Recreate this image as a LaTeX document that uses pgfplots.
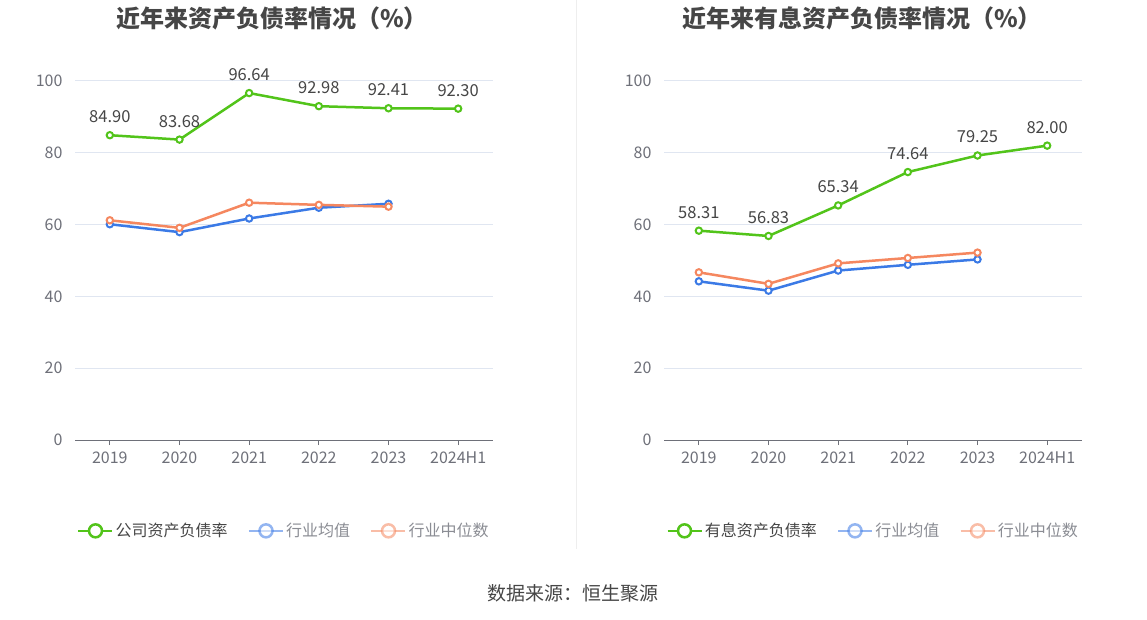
\documentclass[border=0pt]{standalone}
\usepackage{fontspec}
\setmainfont{Noto Sans CJK SC}
\usepackage{pgfplots}
\pgfplotsset{compat=1.18}
\definecolor{cgreen}{RGB}{82,196,26}
\definecolor{cblue}{RGB}{59,122,230}
\definecolor{corange}{RGB}{245,135,95}
\definecolor{gridc}{RGB}{224,230,241}
\definecolor{tickc}{RGB}{110,112,121}
\definecolor{titlec}{RGB}{70,70,70}
\definecolor{labelc}{RGB}{70,70,70}
\definecolor{divc}{RGB}{238,238,238}
\pgfplotsset{
  mystyle/.style={
    scale only axis, width=418pt, height=359pt,
    xmin=-0.5, xmax=5.5, ymin=0, ymax=100,
    xtick={0,1,2,3,4,5},
    xticklabels={2019,2020,2021,2022,2023,2024H1},
    ytick={0,20,40,60,80,100},
    axis x line=bottom, axis y line=left,
    x axis line style={color=tickc, line width=1pt, -},
    y axis line style={draw=none},
    ytick style={draw=none},
    xtick style={color=tickc, line width=1pt},
    major tick length=5pt, tick align=outside,
    ymajorgrids, grid style={color=gridc, line width=1pt},
    tick label style={font=\fontsize{16}{19}\selectfont, text=tickc},
    yticklabel style={xshift=-4pt},
    xticklabel style={yshift=-3pt},
    /pgf/number format/assume math mode=true,
    legend columns=3,
    legend style={draw=none, fill=none, font=\fontsize{16}{19}\selectfont,
      at={(0.5,-0.253)}, anchor=center,
      /tikz/every even column/.append style={column sep=18pt}},
    legend image code/.code={
      \draw[line width=2.5pt] (0pt,0pt) -- (34pt,0pt);
      \draw[line width=2.5pt, fill=white] (17pt,0pt) circle (6.5pt);
    },
    every axis plot/.append style={line width=2.5pt, mark=*, mark size=3.2pt,
      mark options={fill=white, line width=2pt}},
    clip=false,
  },
  dlabels/.style={nodes near coords, point meta=explicit symbolic,
    every node near coord/.append style={font=\fontsize{16.5}{19}\selectfont,
      text=labelc, anchor=south, yshift=8pt}},
}
\begin{document}
\begin{tikzpicture}[x=1pt,y=1pt]
\fill[white] (0,0) rectangle (1147,619);
\path[use as bounding box] (0,0) rectangle (1147,619);
\draw[divc, line width=1pt] (576,619) -- (576,70);
\node[font=\fontsize{24}{28}\selectfont\bfseries, text=titlec] at (272,601) {近年来资产负债率情况（\%）};
\node[font=\fontsize{24}{28}\selectfont\bfseries, text=titlec] at (862,601) {近年来有息资产负债率情况（\%）};
\node[font=\fontsize{19}{22}\selectfont, text=titlec] at (573,26) {数据来源：恒生聚源};

\begin{axis}[mystyle, at={(75pt,179pt)}, anchor=south west]
\addplot[color=cgreen, dlabels] coordinates {(0,84.90)[84.90] (1,83.68)[83.68] (2,96.64)[96.64] (3,92.98)[92.98] (4,92.41)[92.41] (5,92.30)[92.30]};
\addlegendentry{\textcolor{labelc}{公司资产负债率}}
\addplot[color=cblue, legend image post style={opacity=0.55}] coordinates {(0,60.1) (1,57.9) (2,61.7) (3,64.7) (4,65.8)};
\addlegendentry{\textcolor{tickc!80}{行业均值}}
\addplot[color=corange, legend image post style={opacity=0.55}] coordinates {(0,61.2) (1,59.1) (2,66.1) (3,65.5) (4,65.0)};
\addlegendentry{\textcolor{tickc!80}{行业中位数}}
\end{axis}

\begin{axis}[mystyle, at={(664pt,179pt)}, anchor=south west]
\addplot[color=cgreen, dlabels] coordinates {(0,58.31)[58.31] (1,56.83)[56.83] (2,65.34)[65.34] (3,74.64)[74.64] (4,79.25)[79.25] (5,82.00)[82.00]};
\addlegendentry{\textcolor{labelc}{有息资产负债率}}
\addplot[color=cblue, legend image post style={opacity=0.55}] coordinates {(0,44.2) (1,41.6) (2,47.2) (3,48.8) (4,50.3)};
\addlegendentry{\textcolor{tickc!80}{行业均值}}
\addplot[color=corange, legend image post style={opacity=0.55}] coordinates {(0,46.7) (1,43.5) (2,49.2) (3,50.7) (4,52.2)};
\addlegendentry{\textcolor{tickc!80}{行业中位数}}
\end{axis}
\end{tikzpicture}
\end{document}
